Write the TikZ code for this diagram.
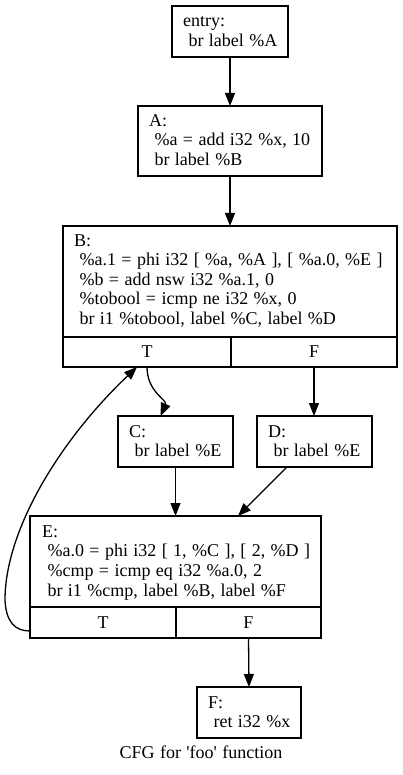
\documentclass[tikz,border=0pt]{standalone}
\usepackage{fontspec}
\setmainfont{Liberation Serif}[WordSpace=1.2]
\usetikzlibrary{arrows.meta}
\begin{document}
\begin{tikzpicture}[x=1pt,y=-1pt,
  box/.style={draw, line width=1.3pt, inner sep=0pt, outer sep=0pt},
  txt/.style={inner sep=0pt, anchor=base west, align=left, font=\fontsize{18}{19.6}\selectfont},
  cell/.style={box, font=\fontsize{18}{19.6}\selectfont},
  edge/.style={line width=1.3pt, -{Triangle[length=13pt,width=10pt]}}]
\useasboundingbox (0,0) rectangle (403,775);

% basic blocks (text nodes are placed by the baseline of their last line)
\node[box, minimum width=116, minimum height=51] (entry) at (230,31.5) {};
\node[txt] (entry-t) at (183,46.5) {entry:\\\ br label \%A};

\node[box, minimum width=184, minimum height=70] (A) at (230,141) {};
\node[txt] (A-t) at (149,165.5) {A:\\\ \%a = add i32 \%x, 10\\\ br label \%B};

\node[box, minimum width=334, minimum height=111] (B) at (230,281.5) {};
\node[txt] (B-t) at (74,324.5) {B:\\\ \%a.1 = phi i32 [ \%a, \%A ], [ \%a.0, \%E ]\\\ \%b = add nsw i32 \%a.1, 0\\\ \%tobool = icmp ne i32 \%x, 0\\\ br i1 \%tobool, label \%C, label \%D};
\node[cell, minimum width=168, minimum height=30] (BT) at (147,352) {T};
\node[cell, minimum width=166, minimum height=30] (BF) at (314,352) {F};

\node[box, minimum width=115, minimum height=51] (C) at (175.5,441.5) {};
\node[txt] (C-t) at (129,456.6) {C:\\\ br label \%E};

\node[box, minimum width=115, minimum height=51] (D) at (314.5,441.5) {};
\node[txt] (D-t) at (268,456.6) {D:\\\ br label \%E};

\node[box, minimum width=291, minimum height=91] (E) at (175.5,561.5) {};
\node[txt] (E-t) at (42,596) {E:\\\ \%a.0 = phi i32 [ 1, \%C ], [ 2, \%D ]\\\ \%cmp = icmp eq i32 \%a.0, 2\\\ br i1 \%cmp, label \%B, label \%F};
\node[cell, minimum width=146, minimum height=31] (ET) at (103,622.5) {T};
\node[cell, minimum width=145, minimum height=31] (EF) at (248.5,622.5) {F};

\node[box, minimum width=104, minimum height=51] (F) at (249,712.5) {};
\node[txt] (F-t) at (208,727.6) {F:\\\ ret i32 \%x};

\node[inner sep=0pt, anchor=base, font=\fontsize{18}{19.6}\selectfont] (caption) at (201,758) {CFG for \textquotesingle foo\textquotesingle\ function};

% control-flow edges
\draw[edge] (entry.south) -- (A.north);
\draw[edge] (A.south) -- (B.north);
\draw[edge] (BT.south) .. controls ([yshift=-25pt]BT.south) and ([xshift=-8pt,yshift=16pt]C.north) .. ([xshift=-15pt]C.north);
\draw[edge] (BF.south) -- ([xshift=-0.5pt]D.north);
\draw[edge] (C.south) -- (E.north);
\draw[edge] ([xshift=-27.5pt]D.south) -- ([xshift=62.5pt]E.north);
\draw[edge] (EF.south) -- (F.north);
% back edge from E (true) to B
\coordinate (loop-low) at (5,600);
\draw[edge] ([yshift=-8.5pt]ET.west) .. controls (15,631) and (6,622) .. (loop-low)
  .. controls (5,530) and (60,440) .. ([xshift=-10pt]BT.south);
\end{tikzpicture}
\end{document}
